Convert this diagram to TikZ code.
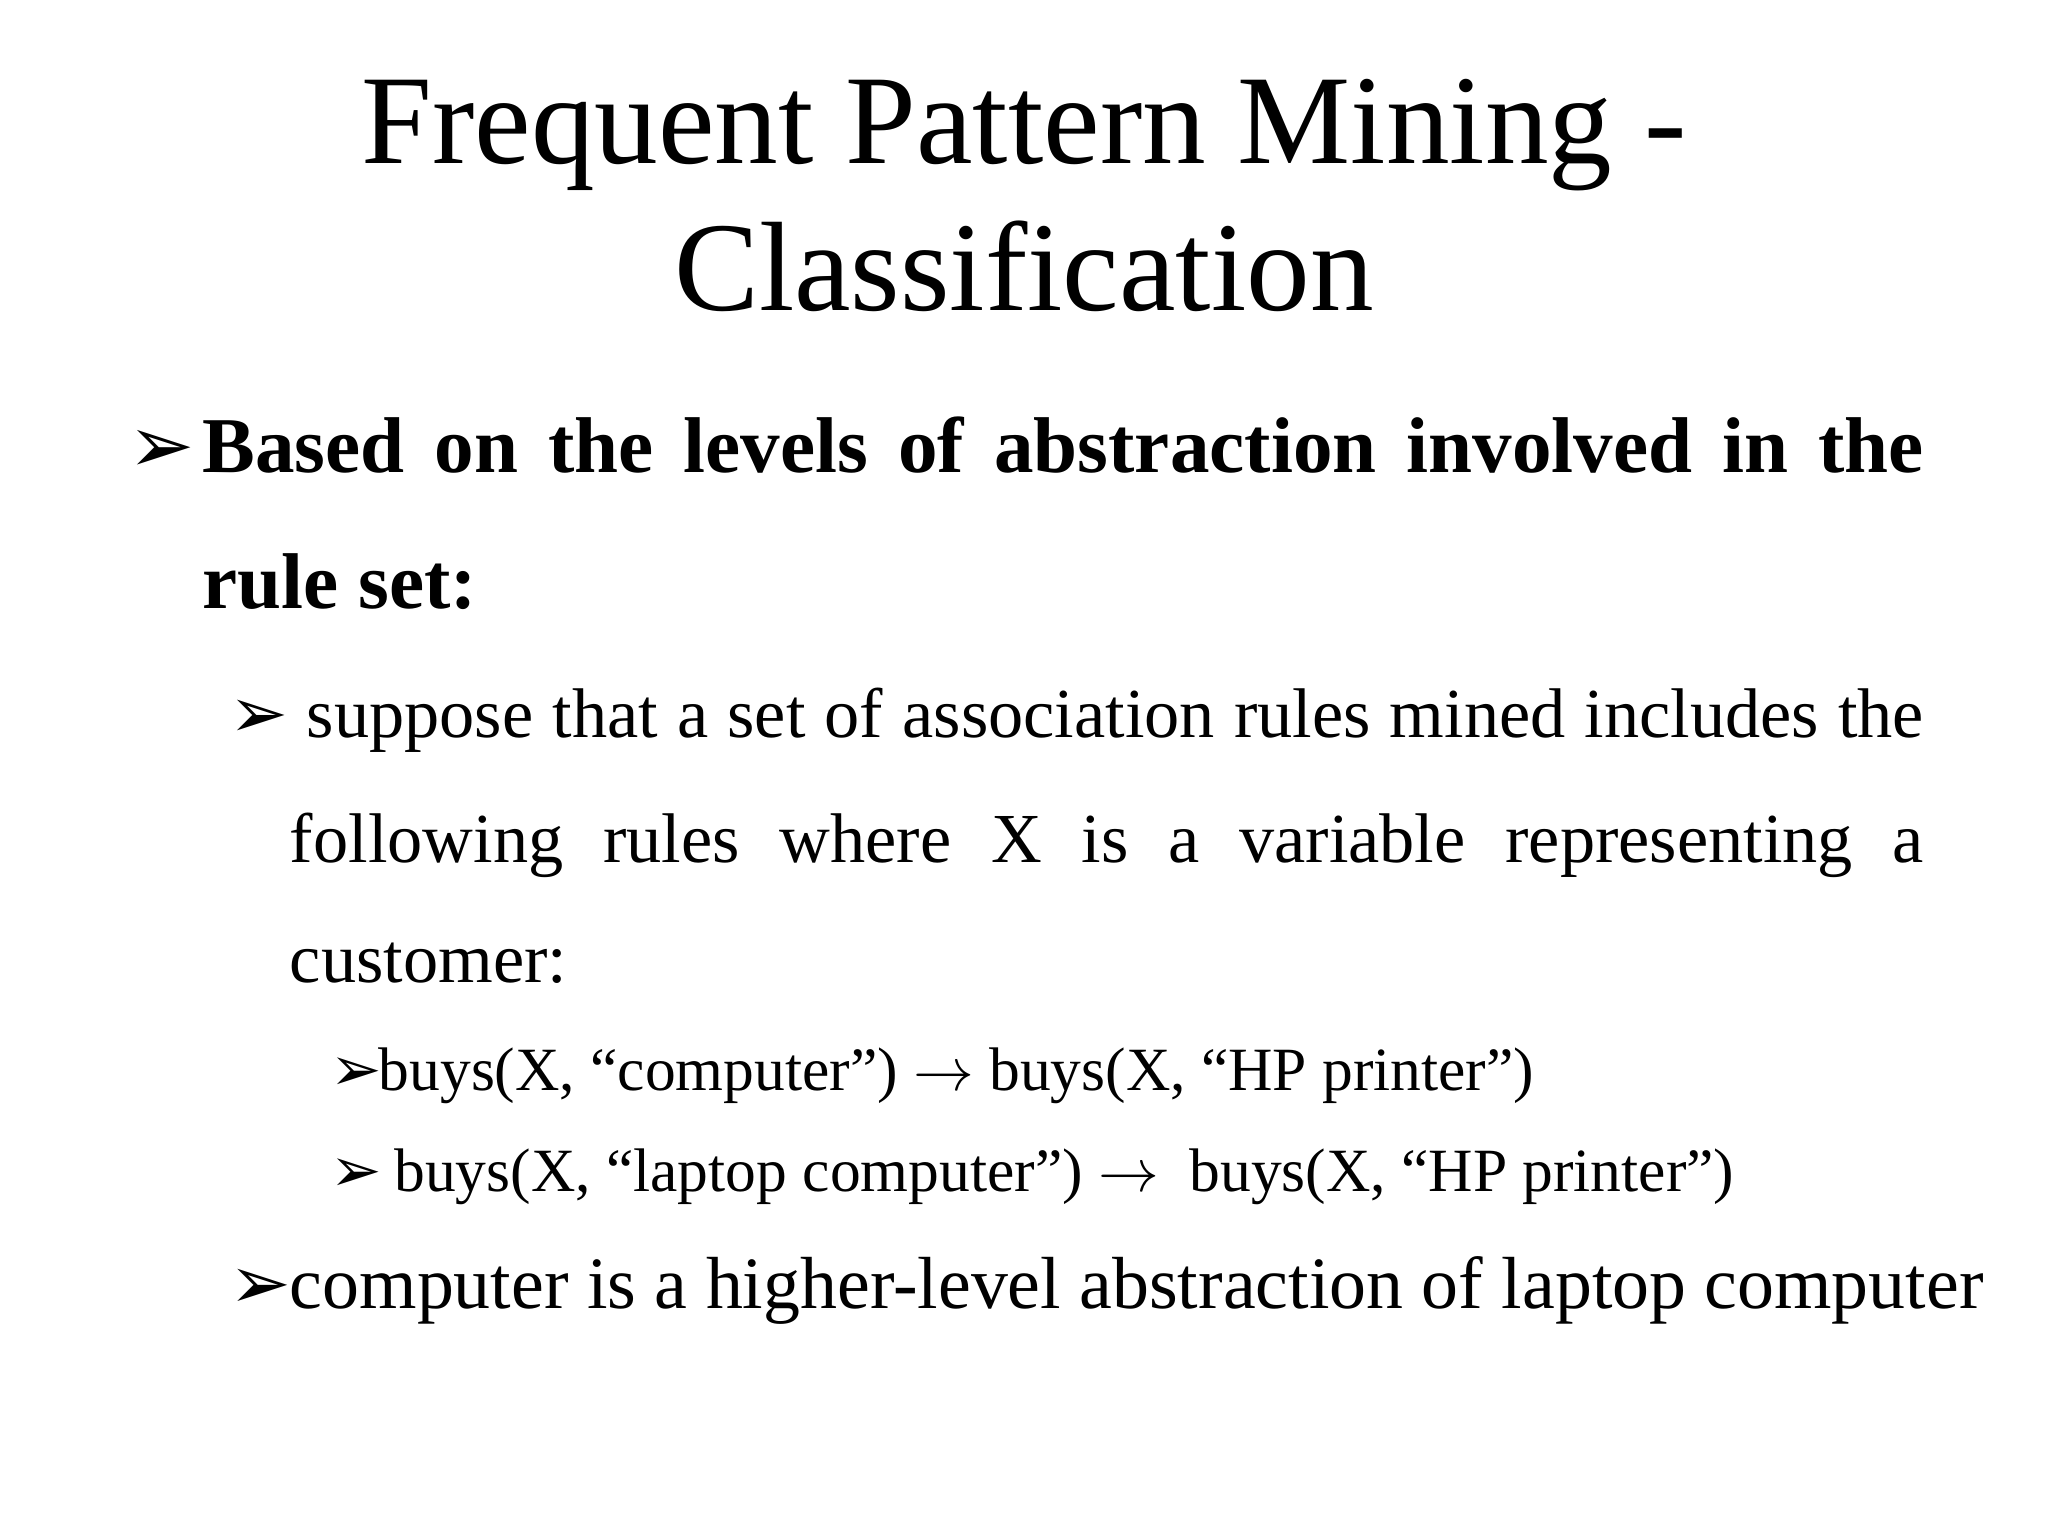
\documentclass[tikz,border=0pt]{standalone}
\usepackage{fontspec}
\setmainfont{Liberation Serif}
\newfontfamily\dvs{DejaVu Sans}
\newcommand{\arr}{{\dvs ➢}}
\begin{document}
\begin{tikzpicture}[x=0.013061cm,y=-0.013061cm,
  t/.style={anchor=base west,inner sep=0pt,outer sep=0pt},
  tt/.style={anchor=base,inner sep=0pt,font=\fontsize{36.2}{40}\selectfont}]
\useasboundingbox (0,0) rectangle (1568,1176);
\node[tt] (t1) at (784,125) {Frequent Pattern Mining -};
\node[tt] (t2) at (784,238) {Classification};
\begin{scope}[font=\fontsize{22.5}{26}\selectfont\bfseries]
\node[t] (b1) at (98,362) {\arr};
\node[t] (l1) at (155,362) {\makebox[17.214cm][s]{Based on the levels of abstraction involved in the}};
\node[t] (l2) at (155,466) {rule set:};
\end{scope}
\begin{scope}[font=\fontsize{20}{24}\selectfont]
\node[t] (b2) at (176,565) {\arr};
\node[t] (l3) at (235,565) {\makebox[16.170cm][s]{suppose that a set of association rules mined includes the}};
\node[t] (l4) at (222,660) {\makebox[16.339cm][s]{following rules where X is a variable representing a}};
\node[t] (l5) at (222,752) {customer:};
\end{scope}
\begin{scope}[font=\fontsize{17.5}{20}\selectfont]
\node[t] (b3) at (253,835) {\arr};
\node[t] (r1) at (290,835) {buys(X, “computer”) $\rightarrow$ buys(X, “HP printer”)};
\node[t] (b4) at (253,912) {\arr};
\node[t] (r2) at (302,912) {buys(X, “laptop computer”) $\rightarrow$\ \ buys(X, “HP printer”)};
\end{scope}
\begin{scope}[font=\fontsize{21}{24}\selectfont]
\node[t] (b5) at (176,1002) {\arr};
\node[t] (l6) at (222,1002) {computer is a higher-level abstraction of laptop computer};
\end{scope}
\end{tikzpicture}
\end{document}
